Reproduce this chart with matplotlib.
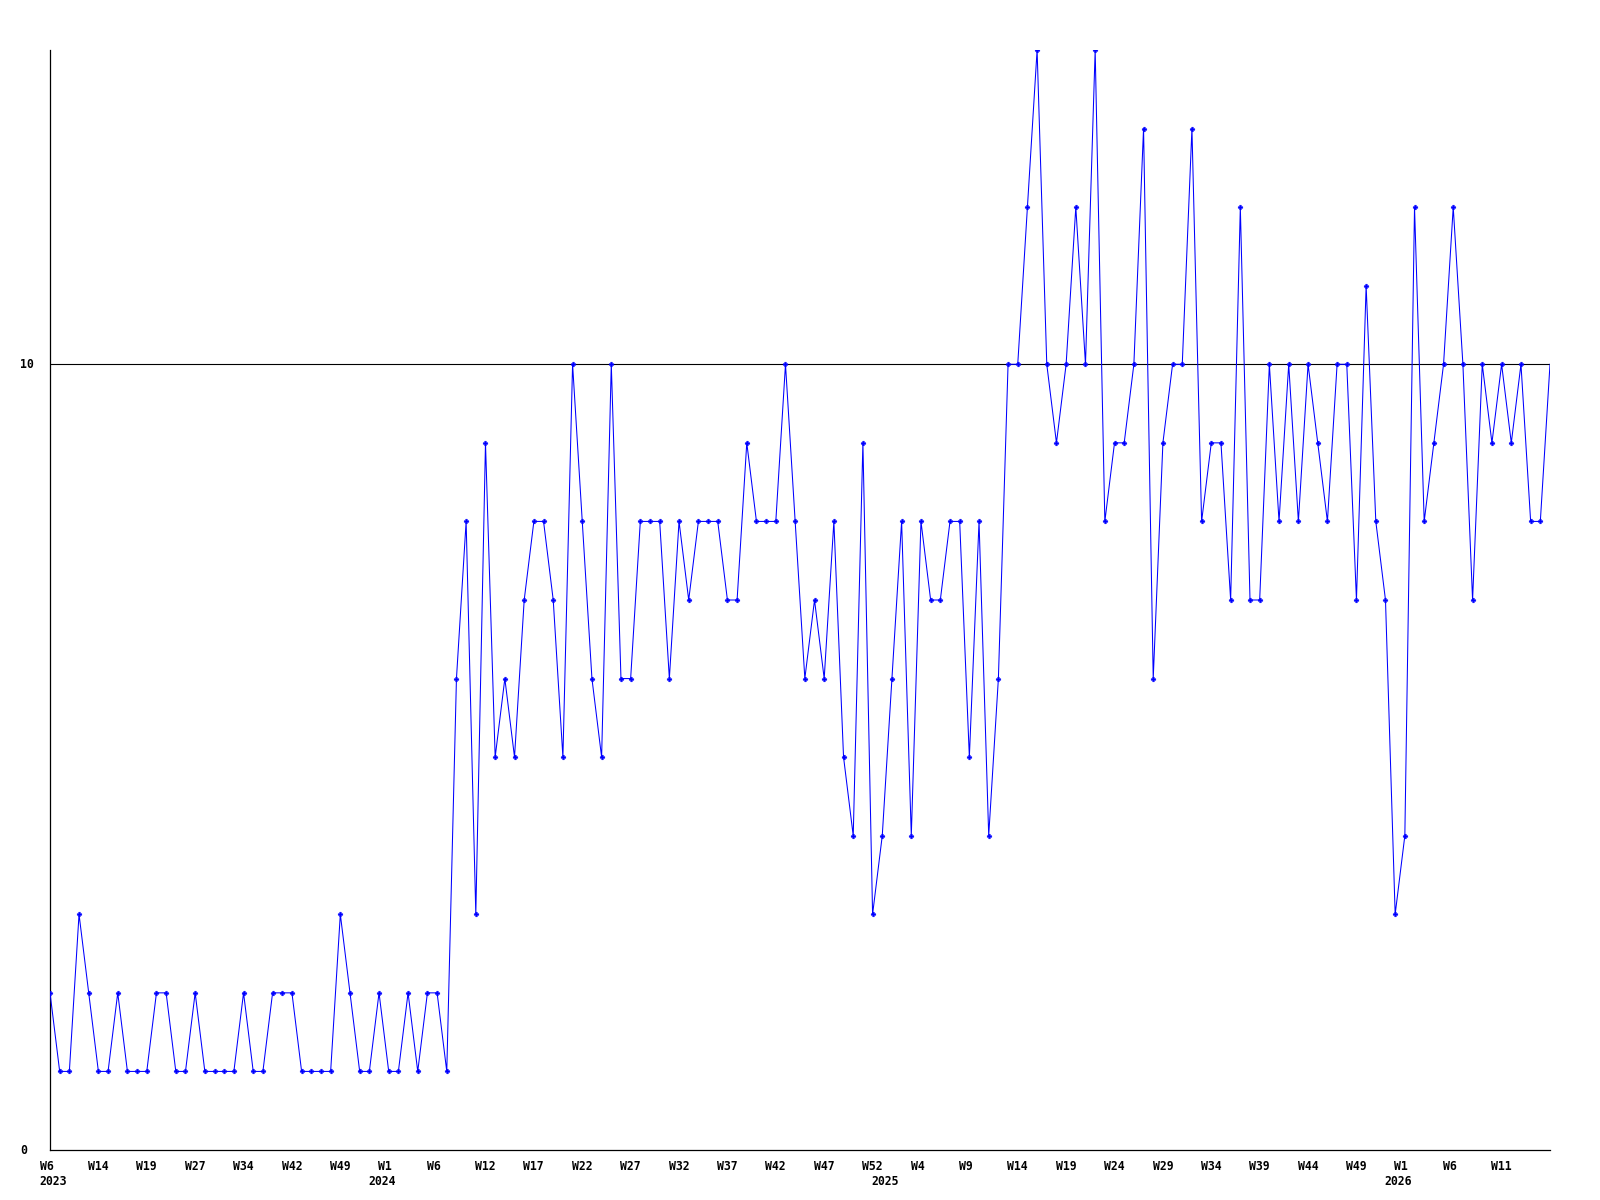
import matplotlib
matplotlib.use("Agg")
import matplotlib.pyplot as plt
import matplotlib.transforms as mtransforms
import numpy as np

FONT = "DejaVu Sans Mono"
TXT = 8.3

# one value per period
values = [
    2, 1, 1, 3, 2, 1, 1, 2, 1, 1,
    1, 2, 2, 1, 1, 2, 1, 1, 1, 1,
    2, 1, 1, 2, 2, 2, 1, 1, 1, 1,
    3, 2, 1, 1, 2, 1, 1, 2, 1, 2,
    2, 1, 6, 8, 3, 9, 5, 6, 5, 7,
    8, 8, 7, 5, 10, 8, 6, 5, 10, 6,
    6, 8, 8, 8, 6, 8, 7, 8, 8, 8,
    7, 7, 9, 8, 8, 8, 10, 8, 6, 7,
    6, 8, 5, 4, 9, 3, 4, 6, 8, 4,
    8, 7, 7, 8, 8, 5, 8, 4, 6, 10,
    10, 12, 14, 10, 9, 10, 12, 10, 14, 8,
    9, 9, 10, 13, 6, 9, 10, 10, 13, 8,
    9, 9, 7, 12, 7, 7, 10, 8, 10, 8,
    10, 9, 8, 10, 10, 7, 11, 8, 7, 3,
    4, 12, 8, 9, 10, 12, 10, 7, 10, 9,
    10, 9, 10, 8, 8, 10,
]

# week labels, one every 5 points
week_labels = ["W6", "W14", "W19", "W27", "W34", "W42", "W49", "W1", "W6", "W12",
               "W17", "W22", "W27", "W32", "W37", "W42", "W47", "W52", "W4", "W9",
               "W14", "W19", "W24", "W29", "W34", "W39", "W44", "W49", "W1", "W6",
               "W11"]
label_step = 5

years = ["2023", "2024", "2025", "2026"]
year_pos = [0, 35, 87, 140]

y_ticks = [0, 10]

x = np.arange(len(values))

fig = plt.figure(figsize=(16, 12), dpi=100)
ax = fig.add_axes([50 / 1600, 50 / 1200, 1500 / 1600, 1100 / 1200])

ax.axhline(10, color="black", lw=0.8, zorder=1)
# last point is drawn without a marker, like the original
ax.plot(x, values, color="#0000ff", lw=0.75, marker="P", ms=3.4,
        mec="#0000ff", mfc="#0000ff", mew=0.3, zorder=3,
        markevery=list(range(len(values) - 1)))

ax.set_xlim(0, len(values) - 1)
ax.set_ylim(0, 14)

for s in ["top", "right"]:
    ax.spines[s].set_visible(False)
for s in ["left", "bottom"]:
    ax.spines[s].set_color("black")
    ax.spines[s].set_linewidth(0.9)

ax.set_xticks([])
ax.set_yticks([])

# x labels: left aligned a little before the point
shift = mtransforms.ScaledTranslation(-10.4 / 100, 0, fig.dpi_scale_trans)
xtrans = mtransforms.blended_transform_factory(ax.transData, fig.transFigure) + shift
for i, lab in enumerate(week_labels):
    ax.text(i * label_step, 1 - 1160 / 1200, lab, transform=xtrans,
            ha="left", va="top", fontsize=TXT, fontweight="bold", family=FONT)

yshift = mtransforms.ScaledTranslation(-6.5 / 100, 0, fig.dpi_scale_trans)
ytrans = mtransforms.blended_transform_factory(ax.transData, fig.transFigure) + yshift
for yr, p in zip(years, year_pos):
    if p == 0:
        ax.text(p, 1 - 1175 / 1200, yr, transform=xtrans, ha="left", va="top",
                fontsize=TXT, fontweight="bold", family=FONT)
    else:
        ax.text(p, 1 - 1175 / 1200, yr, transform=ytrans, ha="center", va="top",
                fontsize=TXT, fontweight="bold", family=FONT)

# y labels at left margin
ttrans = mtransforms.blended_transform_factory(fig.transFigure, ax.transData)
for v in y_ticks:
    ax.text(20 / 1600, v, str(v), transform=ttrans, ha="left", va="center",
            fontsize=TXT, fontweight="bold", family=FONT)

fig.savefig("out.png", dpi=100, facecolor="white")
